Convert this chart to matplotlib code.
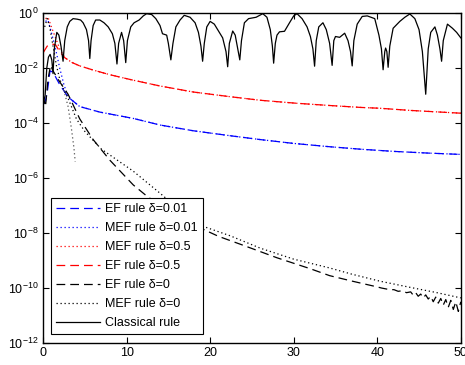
import numpy as np
import matplotlib
matplotlib.use("Agg")
import matplotlib.pyplot as plt

plt.rcParams['font.family'] = ['Liberation Sans', 'DejaVu Sans']
plt.rcParams['mathtext.fontset'] = 'custom'
plt.rcParams['mathtext.rm'] = 'Liberation Sans'
plt.rcParams['mathtext.default'] = 'regular'

# ---- data (values are log10 of the plotted quantity) ----
classical_x = [0.0, 0.25, 0.45, 0.65, 0.85, 1.05, 1.2, 1.35, 1.65, 1.9, 2.15, 2.4, 2.6, 2.9, 3.2, 3.6, 4.1, 4.5, 4.8,
               5.2, 5.45, 5.6, 5.75, 6.0, 6.3, 6.8, 7.3, 7.8, 8.3, 8.6, 8.85, 9.05, 9.4, 9.65, 9.9, 10.1, 10.5, 10.9,
               11.5, 12.0, 12.4, 13.0, 13.5, 14.0, 14.3, 14.8, 15.0, 15.3, 15.55, 15.9, 16.4, 16.9, 17.6, 18.2, 18.6,
               18.9, 19.1, 19.3, 19.6, 20.0, 20.5, 21.0, 21.5, 21.9, 22.1, 22.3, 22.7, 23.0, 23.3, 23.55, 23.75, 24.1,
               24.6, 25.5, 26.3, 26.8, 27.2, 27.45, 27.6, 27.8, 28.0, 28.3, 28.9, 29.5, 30.0, 30.4, 31.0, 31.6, 32.0,
               32.3, 32.5, 32.7, 33.0, 33.5, 33.9, 34.3, 34.6, 34.8, 35.0, 35.5, 36.1, 36.5, 36.8, 37.0, 37.2, 37.6,
               38.2, 38.8, 39.7, 40.2, 40.5, 40.7, 40.9, 41.0, 41.15, 41.3, 41.5, 41.9, 42.7, 43.3, 43.9, 44.5, 45.0,
               45.4, 45.8, 46.1, 46.4, 46.9, 47.2, 47.5, 47.7, 47.9, 48.4, 49.0, 49.5, 50.0]
classical_y = [-3.3, -3.0, -2.0, -1.6, -1.5, -1.7, -2.2, -1.3, -0.7, -0.8, -1.2, -1.75, -1.0, -0.5, -0.3, -0.2, -0.22,
               -0.25, -0.35, -0.6, -1.0, -1.65, -1.0, -0.45, -0.25, -0.25, -0.35, -0.5, -0.75, -1.1, -1.85, -1.1, -0.7,
               -1.0, -1.8, -1.0, -0.5, -0.35, -0.25, -0.1, -0.02, -0.05, -0.2, -0.45, -0.75, -0.8, -1.1, -1.7, -1.1,
               -0.5, -0.25, -0.08, -0.15, -0.35, -0.7, -1.2, -1.75, -1.1, -0.5, -0.3, -0.4, -0.65, -0.9, -1.4, -1.95,
               -1.1, -0.65, -0.8, -1.3, -1.7, -1.0, -0.35, -0.2, -0.15, -0.02, -0.15, -0.6, -1.2, -1.82, -1.1, -0.8,
               -0.68, -0.66, -0.35, -0.1, -0.02, -0.2, -0.5, -0.85, -1.3, -1.93, -1.0, -0.5, -0.35, -0.6, -1.1, -1.9,
               -1.0, -0.85, -0.88, -0.73, -1.0, -1.4, -1.92, -1.0, -0.4, -0.12, -0.1, -0.2, -0.8, -1.3, -2.06, -1.4,
               -1.27, -1.4, -1.97, -1.2, -0.55, -0.3, -0.15, -0.03, -0.2, -0.6, -1.4, -2.95, -1.3, -0.7, -0.5, -0.8,
               -1.3, -1.75, -1.0, -0.4, -0.55, -0.7, -0.9]

ef05_x = [0.0, 0.5, 1.0, 1.5, 2.0, 2.6, 3.5, 4.4, 6.0, 8.0, 10.8, 14.0, 18.0, 22.4, 26.0, 30.4, 34.3, 38.0, 40.3,
          44.0, 47.0, 50.0]
ef05_y = [-1.45, -1.2, -1.12, -1.15, -1.4, -1.62, -1.8, -1.92, -2.07, -2.24, -2.44, -2.65, -2.87, -3.04, -3.17,
          -3.28, -3.36, -3.43, -3.46, -3.54, -3.59, -3.64]
mef05_x = [0.3, 0.6, 1.0, 1.5, 2.0] + ef05_x[5:]
mef05_y = [-0.2, -0.15, -0.5, -0.9, -1.3] + ef05_y[5:]

ef001_x = [0.2, 0.5, 0.84, 1.2, 2.0, 3.0, 4.4, 6.8, 10.8, 14.0, 18.0, 22.4, 26.0, 30.0, 34.3, 38.0, 42.0, 46.0, 50.0]
ef001_y = [-3.3, -2.9, -2.1, -2.15, -2.6, -3.05, -3.4, -3.6, -3.83, -4.07, -4.28, -4.46, -4.6, -4.74, -4.86, -4.95,
           -5.03, -5.09, -5.14]
mef001_x = [0.3, 0.6, 1.0, 1.5, 2.0, 2.5] + ef001_x[5:]
mef001_y = [-0.3, -0.25, -0.7, -1.3, -2.0, -2.6] + ef001_y[5:]

ef0_x = [0.0, 0.3, 0.6, 0.9, 1.2, 2.0, 3.0, 4.4, 6.0, 8.0, 10.8, 12.4, 15.0, 18.0, 21.0, 24.0, 28.0, 32.0, 34.3,
         37.0, 40.0, 40.5, 41.0, 41.5, 42.0, 42.5, 43.0, 43.5, 44.0, 44.3, 44.6, 44.9, 45.2, 45.5, 45.8, 46.1,
         46.4, 46.7, 47.0, 47.3, 47.6, 47.9, 48.2, 48.5, 48.8, 49.1, 49.4, 49.7, 50.0]
ef0_y = [-3.0, -3.4, -2.4, -1.9, -2.1, -2.5, -2.95, -3.85, -4.6, -5.35, -6.25, -6.65, -7.2, -7.7, -8.12, -8.45,
         -8.9, -9.3, -9.55, -9.75, -9.96, -10.0, -10.03, -10.06, -10.06, -10.12, -10.1, -10.17, -10.14, -10.26,
         -10.17, -10.3, -10.22, -10.36, -10.25, -10.4, -10.3, -10.5, -10.33, -10.55, -10.38, -10.62, -10.42, -10.7,
         -10.45, -10.78, -10.5, -10.85, -10.5]

mef0_x = [0.2, 0.5, 0.8, 1.2, 1.6, 2.0, 2.5, 3.0, 4.0, 5.0, 7.0, 8.9, 10.8, 14.0, 16.5, 19.1, 22.4, 26.0, 30.0,
          34.3, 37.0, 40.3, 44.0, 47.0, 50.0]
mef0_y = [-0.5, -0.2, -0.5, -1.2, -1.9, -2.4, -2.8, -3.1, -3.85, -4.3, -4.95, -5.35, -5.75, -6.55, -7.2, -7.75,
          -8.1, -8.55, -8.95, -9.27, -9.5, -9.75, -9.98, -10.16, -10.36]
mef0_drop_x = [2.5, 3.0, 3.4, 3.7, 3.85]
mef0_drop_y = [-2.8, -3.4, -4.2, -4.9, -5.4]

xticks = [0, 10, 20, 30, 40, 50]
yticks = [1e-12, 1e-10, 1e-8, 1e-6, 1e-4, 1e-2, 1e0]


def p(v):
    return 10.0 ** np.asarray(v)


fig = plt.figure(figsize=(4.65, 3.65), dpi=100)
ax = fig.add_axes([0.0925, 0.0603, 0.8985, 0.9037])

lw = 0.9
dash = (0, (7, 4))
dot = (0, (1, 2.2))

ax.plot(ef001_x, p(ef001_y), color='#0000ff', lw=lw, ls=dash, label='EF rule δ=0.01')
ax.plot(mef001_x, p(mef001_y), color='#0000ff', lw=lw, ls=dot, label='MEF rule δ=0.01')
ax.plot(mef05_x, p(mef05_y), color='#ff0000', lw=lw, ls=dot, label='MEF rule δ=0.5')
ax.plot(ef05_x, p(ef05_y), color='#ff0000', lw=lw, ls=dash, label='EF rule δ=0.5')
ax.plot(ef0_x, p(ef0_y), color='black', lw=lw, ls=dash, label='EF rule δ=0')
ax.plot(mef0_x, p(mef0_y), color='black', lw=lw, ls=dot, label='MEF rule δ=0')
ax.plot(mef0_drop_x, p(mef0_drop_y), color='#555555', lw=lw, ls=dot)
ax.plot(classical_x, p(classical_y), color='black', lw=lw, ls='-', label='Classical rule')

ax.set_yscale('log')
ax.set_xlim(0, 50)
ax.set_ylim(1e-12, 1e0)
ax.set_xticks(xticks)
ax.set_yticks(yticks)
ax.minorticks_off()
ax.tick_params(direction='in', top=True, right=True, labelsize=9, length=4, width=0.8, pad=3)
for s in ax.spines.values():
    s.set_linewidth(1.0)

leg = ax.legend(loc='lower left', bbox_to_anchor=(0.02, 0.027), borderaxespad=0, fontsize=9,
                frameon=True, fancybox=False, edgecolor='black', framealpha=1,
                handlelength=3.5, handletextpad=0.4, labelspacing=0.56, borderpad=0.4)
leg.get_frame().set_linewidth(0.8)

fig.savefig('out.png', dpi=100)
